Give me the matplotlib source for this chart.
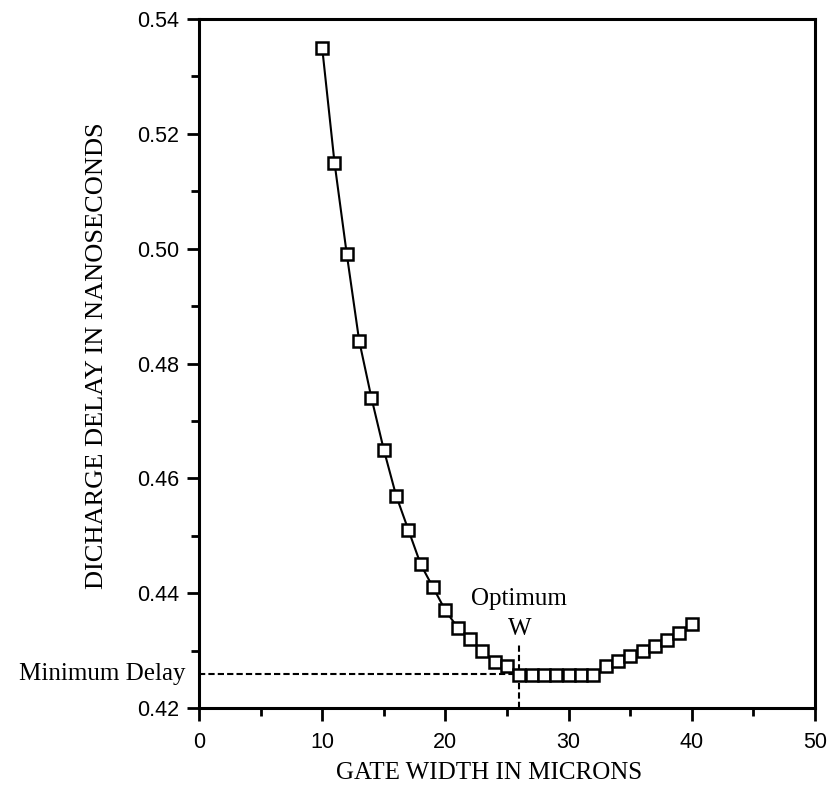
import matplotlib
matplotlib.use("Agg")
import matplotlib.pyplot as plt
from matplotlib.ticker import MultipleLocator, FormatStrFormatter

# Data
gate_width = [10, 11, 12, 13, 14, 15, 16, 17, 18, 19, 20, 21, 22, 23, 24, 25,
              26, 27, 28, 29, 30, 31, 32, 33, 34, 35, 36, 37, 38, 39, 40]
delay_ns = [0.535, 0.515, 0.499, 0.484, 0.474, 0.465, 0.457, 0.451, 0.445, 0.441,
            0.437, 0.434, 0.432, 0.430, 0.428, 0.4273,
            0.4257, 0.4257, 0.4257, 0.4257, 0.4257, 0.4257, 0.4257,
            0.4273, 0.4282, 0.4290, 0.4299, 0.4308, 0.4318, 0.4330, 0.4346]
optimum_w = 26
min_delay = 0.4259

serif = ["Liberation Serif", "DejaVu Serif"]
sans = ["Liberation Sans", "DejaVu Sans"]

fig = plt.figure(figsize=(8.28, 7.88), dpi=100)
ax = fig.add_axes([0.2403, 0.1015, 0.744, 0.8744])

ax.plot(gate_width, delay_ns, color="black", lw=1.5, marker="s", markersize=8,
        markerfacecolor="white", markeredgecolor="black", markeredgewidth=1.8, zorder=3)

# Minimum delay & optimum W guide lines
ax.plot([0, optimum_w], [min_delay, min_delay], color="black", lw=1.5,
        linestyle=(0, (3, 1.5)), zorder=2)
ax.plot([optimum_w, optimum_w], [0.42, 0.4312], color="black", lw=1.5,
        linestyle=(0, (3, 1.5)), zorder=2)

ax.text(optimum_w, 0.4390, "Optimum", ha="center", va="center",
        family=serif, fontsize=18)
ax.text(optimum_w, 0.4338, "W", ha="center", va="center",
        family=serif, fontsize=18)
ax.text(-1.1, min_delay, "Minimum Delay", ha="right", va="center",
        family=serif, fontsize=18, clip_on=False)

ax.set_xlim(0, 50)
ax.set_ylim(0.42, 0.54)
ax.xaxis.set_major_locator(MultipleLocator(10))
ax.xaxis.set_minor_locator(MultipleLocator(5))
ax.yaxis.set_major_locator(MultipleLocator(0.02))
ax.yaxis.set_minor_locator(MultipleLocator(0.01))
ax.yaxis.set_major_formatter(FormatStrFormatter("%.2f"))

ax.tick_params(which="major", direction="out", length=9, width=2,
               top=False, right=False)
ax.tick_params(which="minor", direction="out", length=5.5, width=2,
               top=False, right=False)
for lbl in ax.get_xticklabels() + ax.get_yticklabels():
    lbl.set_family(sans)
    lbl.set_fontsize(15.5)
ax.tick_params(axis="x", which="major", pad=8)
ax.tick_params(axis="y", which="major", pad=5)

for s in ax.spines.values():
    s.set_linewidth(2.2)

ax.set_xlabel("GATE WIDTH IN MICRONS", family=serif, fontsize=18)
ax.set_ylabel("DICHARGE DELAY IN NANOSECONDS", family=serif, fontsize=19)
ax.xaxis.set_label_coords(0.4716, -0.079)
ax.yaxis.set_label_coords(-0.148, 0.511)

fig.savefig("out.png", dpi=100)
